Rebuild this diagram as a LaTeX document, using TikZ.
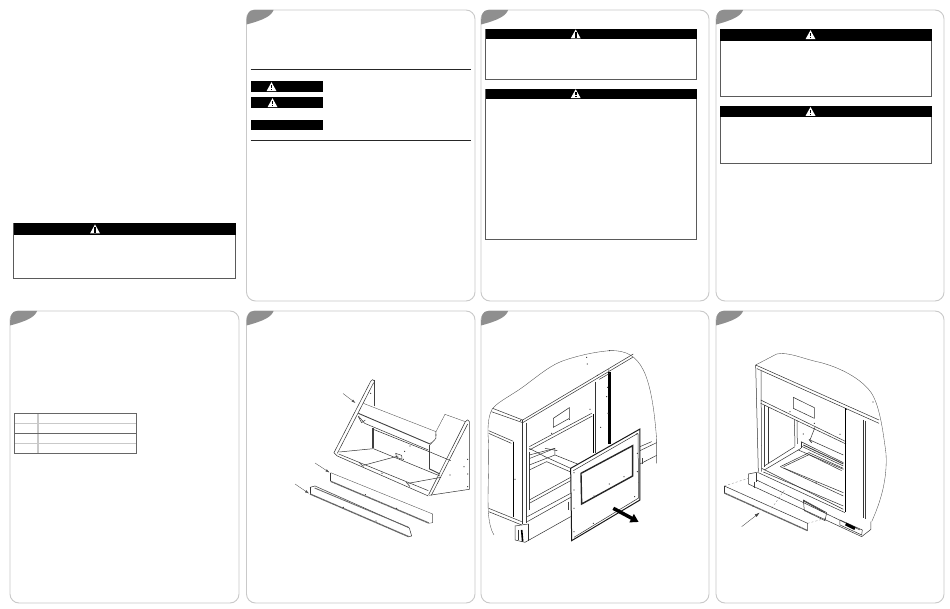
\documentclass[tikz,border=0pt]{standalone}
\usetikzlibrary{arrows.meta}
\definecolor{panelgray}{HTML}{C9C9C9}
\definecolor{tabgray}{HTML}{8F8F8F}
\definecolor{boxgray}{HTML}{5A5A5A}
\tikzset{
  panelbox/.style={draw=panelgray,line width=0.9pt,rounded corners=9pt,fill=white},
  tabshape/.style={fill=tabgray,draw=none},
  warnbox/.style={draw=boxgray,line width=0.8pt},
  warnbar/.style={fill=black,draw=none},
  warntri/.style={fill=white,draw=none},
  sectionrule/.style={draw=black!85,line width=1.4pt},
  tabheavy/.style={draw=black!60,line width=0.7pt},
  tablight/.style={draw=panelgray,line width=0.7pt},
  tabcol/.style={draw=panelgray,line width=1.1pt},
  thin line/.style={draw=black!70,line width=0.35pt},
  part/.style={draw=black!80,line width=0.5pt},
  heavy/.style={draw=black!75,line width=0.9pt},
  solid heavy/.style={draw=black,line width=1.6pt},
  hatched/.style={draw=black!60,line width=1.3pt,dash pattern=on 3pt off 0.4pt},
  dashlead/.style={draw=black!45,line width=0.35pt,dash pattern=on 2pt off 2pt},
  lead/.style={draw=black!70,line width=0.35pt,-{Latex[length=4pt,width=2.5pt]}},
  rivet/.style={fill=black!80,draw=none},
}
\newcommand{\wtri}[2]{%
  \fill[warntri] (#1-5,#2+4.2) -- (#1,#2-4.8) -- (#1+5,#2+4.2) -- cycle;
  \fill[black] (#1-0.8,#2-2) rectangle (#1+0.8,#2+1.4);
  \fill[black] (#1-0.8,#2+2) rectangle (#1+0.8,#2+3.4);
}
\newcommand{\wbox}[6]{% x1,y1,x2,y2,headerbottom,trianglex
  \draw[warnbox] (#1,#2) rectangle (#3,#4);
  \fill[warnbar] (#1,#2) rectangle (#3,#5);
  \wtri{#6}{#2+0.5*#5-0.5*#2}
}
\newcommand{\panel}[4]{%
  \draw[panelbox] (#1,#2) rectangle (#3,#4);
  \fill[tabshape] (#1,#2+14.5) .. controls (#1,#2+5) and (#1+1.5,#2) .. (#1+7,#2) -- (#1+27,#2)
     .. controls (#1+25,#2+6) and (#1+17,#2+10) .. (#1,#2+14.5) -- cycle;
}
\begin{document}
\begin{tikzpicture}[x=1pt,y=-1pt]
\useasboundingbox (0,0) rectangle (950,609);
\fill[white] (0,0) rectangle (950,609);

% Panels
\panel{246.5}{10}{475}{301}
\panel{481}{10}{709}{301}
\panel{716}{10}{944}{301}
\panel{10}{311}{239}{603}
\panel{246.5}{311}{475}{603}
\panel{481}{311}{709}{603}
\panel{716}{311}{944}{603}

% Page 1 warning
\wbox{13.5}{223.5}{235.5}{278}{235}{95}

% Panel 2 key
\draw[sectionrule] (250.5,69.5) -- (471,69.5);
\draw[sectionrule] (250.5,140.7) -- (471,140.7);
\fill[warnbar] (250.5,81.5) rectangle (323,92);
\fill[warnbar] (250.5,97.5) rectangle (323,108.5);
\fill[warnbar] (250.5,120) rectangle (323,130.5);
\wtri{271.5}{87}
\wtri{272.5}{103}

% Panel 3
\wbox{485.5}{29}{696.5}{79.5}{39.5}{575.7}
\wbox{485.5}{89}{696.5}{239}{99}{575.7}

% Panel 4
\wbox{720}{29}{931.7}{96.5}{41}{810.5}
\wbox{720}{106}{931.7}{163.5}{117.5}{810.5}

% Table
\draw[tablight] (14,423.5) -- (136.5,423.5);
\draw[tablight] (14,443.5) -- (136.5,443.5);
\draw[tabcol] (38,413.3) -- (38,453);
\draw[tabheavy] (14,433.5) -- (136.5,433.5);
\draw[tabheavy] (14,413.3) rectangle (136.5,453);

% Drawing 1: frame
\begin{scope}[shift={(330,370)},x=0.3333pt,y=-0.3333pt]
 \draw[part] (122,34) .. controls (124,28) and (132,26) .. (134,34);
 \draw[part] (122,34) -- (12,248) -- (22,258) -- (295,378);
 \draw[part] (131,38) -- (22,250);
 \draw[heavy,line width=1.2pt] (134,30) -- (134,108);
 \draw[heavy,line width=1.2pt] (129,175) -- (129,235);
 \draw[thin line] (100,100) -- (318,185);
 \draw[part] (318,185) -- (318,205) -- (300,224);
 \draw[heavy] (85,130) -- (300,222);
 \draw[part] (85,138) -- (104,160) -- (295,240);
 \draw[part] (130,178) -- (300,246) -- (362,272);
 \draw[part] (85,140) -- (95,158) -- (106,150);
 \draw[thin line] (345,133) -- (406,155);
 \draw[thin line] (345,133) -- (318,185);
 \draw[part] (406,155) .. controls (408,148) and (418,148) .. (418,155) -- (418,358) -- (298,376);
 \draw[part] (406,155) -- (296,374);
 \draw[part] (413,162) -- (304,376);
 \draw[part] (28,246) -- (130,236) -- (330,318);
 \draw[part] (100,286) -- (205,258);
 \draw[part] (235,340) -- (333,322);
 \draw[part] (26,252) -- (295,362);
 \draw[heavy] (297,225) -- (297,296);
 \draw[heavy] (297,296) -- (330,312);
 \draw[part] (197,250) -- (215,256) -- (216,268) -- (200,262) -- cycle;
 \draw[part] (88,278) -- (100,290);
 \draw[part] (228,336) -- (240,350);
 \foreach \p in {(122,70),(224,244),(220,268),(156,310),(240,228),(360,315),(402,290),(413,268),(413,312),(413,350),(318,195),(303,219)}
   \fill[rivet] \p circle (1.9);
\end{scope}

% Drawing 1: bars
\begin{scope}[shift={(290,450)},x=0.3333pt,y=-0.3333pt]
 \draw[part] (122,68) -- (122,94);
 \draw[thin line] (122,68) -- (428,192) -- (428,218) -- (416,220);
 \draw[hatched] (122,94) -- (416,219);
 \draw[part] (60,112) -- (75,108) -- (358,234) -- (365,258) -- (356,260);
 \draw[part] (60,112) -- (60,132);
 \draw[hatched] (60,132) -- (356,260);
 \draw[hatched,line width=0.9pt] (74,114) -- (356,232);
 \foreach \p in {(226,134),(320,175),(160,172),(258,213)}
   \fill[rivet] \p circle (1.8);
\end{scope}
\coordinate (arrAs) at (343,393.5);
\coordinate (arrAe) at (355.5,403);
\draw[lead] (arrAs) -- (arrAe);
\coordinate (arrBs) at (315,463);
\coordinate (arrBe) at (329.5,472.5);
\draw[lead] (arrBs) -- (arrBe);
\coordinate (arrCs) at (295,484);
\coordinate (arrCe) at (309,493.5);
\draw[lead] (arrCs) -- (arrCe);

% Drawing 2
\begin{scope}[shift={(480,340)},x=0.3333pt,y=-0.3333pt]
 \draw[thin line] (38,205) .. controls (60,180) and (100,165) .. (150,125)
    .. controls (190,95) and (215,75) .. (250,62)
    .. controls (300,45) and (350,35) .. (390,32)
    .. controls (440,30) and (470,50) .. (490,90)
    .. controls (515,140) and (525,230) .. (530,300) -- (530,370);
 \draw[thin line] (38,205) .. controls (25,225) and (22,260) .. (25,300)
    .. controls (28,380) and (22,450) .. (25,520) .. controls (28,545) and (30,565) .. (42,585);
 \draw[part] (38,205) -- (128,240) -- (460,42);
 \draw[part] (34,215) -- (128,248) -- (458,52);
 \draw[part] (126,240) -- (126,552);
 \draw[heavy] (140,248) -- (140,548);
 \draw[part] (26,272) -- (100,304);
 \draw[part] (26,280) -- (94,310);
 \draw[solid heavy] (100,305) -- (100,530);
 \draw[part] (26,505) -- (125,545);
 \draw[part] (26,515) -- (125,555);
 \draw[part] (347,125) -- (347,340);
 \draw[solid heavy,line width=2.4pt] (389,95) -- (389,312);
 \draw[solid heavy] (340,222) -- (340,340);
 \draw[part] (358,118) -- (389,100);
 \draw[part] (220,235) -- (268,203) -- (268,235) -- (220,262) -- cycle;
 \draw[part] (148,320) -- (335,220);
 \draw[part] (148,330) -- (337,228);
 \draw[heavy] (148,335) -- (148,510);
 \draw[part] (148,325) -- (195,350) -- (272,385);
 \draw[part] (148,345) -- (225,325);
 \draw[part] (150,355) -- (225,325) -- (225,345);
 \draw[part] (195,325) -- (232,332);
 \draw[part] (148,375) -- (225,345) -- (300,375);
 \draw[part] (148,390) -- (200,365) -- (272,396);
 \draw[part] (148,480) -- (272,412);
 \draw[part] (148,490) -- (272,422);
 \draw[part] (142,530) -- (272,460);
 \draw[part] (142,545) -- (272,472);
 \draw[heavy] (265,485) -- (265,510);
 \draw[part] (105,558) -- (145,552);
 \draw[part] (105,558) -- (105,600) -- (135,607) -- (272,530);
 \draw[part] (145,552) -- (145,603);
 \draw[solid heavy] (125,570) -- (128,605);
 \draw[part] (115,570) -- (115,600);
 \draw[part] (480,320) -- (515,305);
 \draw[part] (480,332) -- (530,308);
 \draw[part] (480,372) -- (530,346);
 \draw[heavy] (486,355) -- (486,372);
 % door
 \draw[fill=white,draw=black!90,line width=1pt] (272,385) -- (480,267) -- (480,480) -- (275,602) -- cycle;
 \draw[part] (280,392) -- (474,280) -- (476,474) -- (282,592);
 \draw[draw=black!85,line width=1.4pt] (303,400) -- (458,317) -- (458,408) -- (305,492) -- cycle;
 \foreach \p in {(282,398),(282,450),(282,505),(282,575),(342,468),(388,432),(432,410),(470,282),(472,340),(472,395),(464,470),(410,505),(340,550),(320,52),(322,72),(388,32),(352,106),(386,90),(122,242),(105,418),(215,280),(330,208),(268,238),(362,262),(384,220),(383,142),(380,170)}
   \fill[rivet] \p circle (1.9);
 \coordinate (pullA) at (400,505);
 \coordinate (pullB) at (476,546);
 \draw[-{Triangle[length=8pt,width=9pt]},draw=black,line width=3.5pt] (pullA) -- (pullB);
\end{scope}

% Drawing 3
\begin{scope}[shift={(715,340)},x=0.3333pt,y=-0.3333pt]
 \draw[thin line] (122,75) -- (185,42) .. controls (220,35) and (260,55) .. (310,66)
   .. controls (370,80) and (440,115) .. (470,160)
   .. controls (495,200) and (505,280) .. (513,340)
   .. controls (518,420) and (495,490) .. (470,545);
 \draw[part] (122,75) -- (492,240);
 \draw[part] (126,86) -- (492,250);
 \draw[part] (122,75) -- (130,395);
 \draw[part] (138,92) -- (140,395);
 \draw[part] (137,180) -- (393,305);
 \draw[part] (137,190) -- (393,312);
 \draw[heavy] (148,195) -- (148,380);
 \draw[part] (160,200) -- (160,370);
 \draw[solid heavy,line width=1.2pt] (392,205) -- (392,515);
 \draw[part] (444,240) -- (444,535);
 \draw[heavy] (452,242) -- (452,538);
 \draw[part] (235,172) -- (298,203) -- (298,235) -- (235,205) -- cycle;
 \draw[part] (238,238) -- (240,318);
 \draw[part] (246,242) -- (247,312);
 \draw[part] (148,378) -- (240,320);
 \draw[part] (148,390) -- (258,325);
 \draw[part] (300,262) -- (285,300) -- (385,345);
 \draw[heavy] (282,298) -- (290,308);
 \draw[part] (258,305) -- (385,368);
 \draw[part] (258,318) -- (385,378);
 \draw[part] (258,305) -- (258,325);
 \draw[heavy] (265,315) -- (385,372);
 \draw[part] (250,330) -- (385,388);
 \draw[part] (196,380) -- (282,338) -- (385,385);
 \draw[part] (206,380) -- (282,344) -- (380,392);
 \draw[part] (196,380) -- (385,468);
 \draw[part] (206,384) -- (385,458);
 \draw[part] (140,385) -- (385,508);
 \draw[part] (145,396) -- (385,498);
 \draw[part] (130,398) -- (390,518);
 \draw[part] (100,402) -- (130,396);
 \draw[part] (100,402) -- (100,432) -- (440,590) -- (468,568) -- (468,545);
 \draw[part] (125,420) -- (435,570);
 \draw[part] (125,400) -- (125,425);
 \draw[heavy] (118,425) -- (118,445);
 \draw[part] (265,480) -- (335,518) -- (330,542) -- (268,512) -- cycle;
 \draw[heavy] (265,482) -- (330,518);
 \draw[part] (375,540) -- (442,570) -- (440,585) -- (375,555) -- cycle;
 \draw[draw=black,line width=3pt] (392,552) -- (420,566);
 \draw[dashlead] (28,438) -- (100,415);
 \draw[dashlead] (278,550) -- (332,535);
 \draw[dashlead] (170,505) -- (210,448);
 \draw[part] (28,438) -- (278,550) -- (278,572);
 \draw[part] (28,438) -- (28,460);
 \draw[hatched] (28,459) -- (278,572);
 \foreach \p in {(474,186),(298,250),(225,215),(375,283),(265,282),(395,208),(114,498),(303,428)}
   \fill[rivet] \p circle (1.8);
 \coordinate (barS) at (80,560);
 \coordinate (barE) at (134,518);
 \draw[draw=black!75,line width=0.35pt,-{Latex[length=5pt,width=3pt]}] (barS) -- (barE);
\end{scope}
\end{tikzpicture}
\end{document}
